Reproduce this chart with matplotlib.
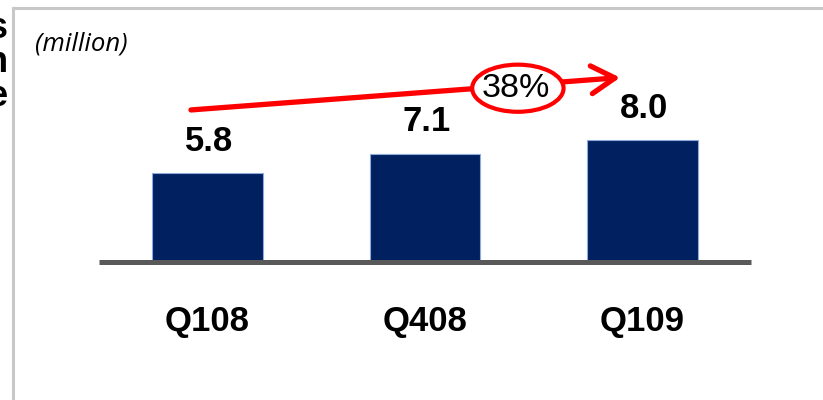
import matplotlib.pyplot as plt
from matplotlib.patches import Ellipse
from matplotlib.lines import Line2D

quarters = ['Q108', 'Q408', 'Q109']
subscribers = [5.8, 7.1, 8.0]
growth_label = '38%'
unit_label = '(million)'

plt.rcParams['font.family'] = ['Liberation Sans', 'DejaVu Sans']

fig = plt.figure(figsize=(8.23, 4.0), dpi=100)
W, H = 823, 400

# axes placed so that y=0 sits on the grey baseline
ax = fig.add_axes([98.75 / W, 138.5 / H, 652.5 / W, 152 / H])
ax.set_xlim(-0.5, 2.5)
ax.set_ylim(0, 10)

x = range(len(quarters))
ax.bar(x, subscribers, width=0.51, color='#002060', edgecolor='#8ea9db', linewidth=0.8, zorder=2)

for xi, v in zip(x, subscribers):
    ax.annotate(f'{v:.1f}', (xi, v), xytext=(1, 16), textcoords='offset points',
                ha='center', va='baseline', fontsize=25, fontweight='bold', color='black',
                annotation_clip=False)

for side in ['top', 'right', 'left']:
    ax.spines[side].set_visible(False)
ax.spines['bottom'].set_color('#595959')
ax.spines['bottom'].set_linewidth(3.6)
ax.spines['bottom'].set_capstyle('butt')
ax.spines['bottom'].set_zorder(3)
ax.set_yticks([])
ax.set_xticks(list(x))
ax.set_xticklabels(quarters, fontsize=25, fontweight='bold')
ax.tick_params(axis='x', length=0, pad=31)
ax.patch.set_visible(False)

# growth arrow with circled percentage
ax.annotate('', xy=(1.897, 12.1), xytext=(-0.076, 9.97),
            arrowprops=dict(arrowstyle='->, head_length=0.85, head_width=0.5', color='#ff0000',
                            lw=3.8, shrinkA=0, shrinkB=0, mutation_scale=20),
            annotation_clip=False)
ell = Ellipse((1.427, 11.4), 0.42, 3.1, facecolor='white', edgecolor='#ff0000', lw=3.0,
              clip_on=False, zorder=4)
ax.add_patch(ell)
ax.text(1.418, 11.35, growth_label, ha='center', va='center', fontsize=24.5, zorder=5, clip_on=False)

fig.text(35 / W, 1 - 44 / H, unit_label, ha='left', va='center', fontsize=18.5,
         style='italic', family=['Open Sans', 'DejaVu Sans'])

# frame of the slide box
fig.add_artist(Line2D([13 / W, 13 / W], [0, 1 - 8 / H], color='#c8c8c8', lw=2.2))
fig.add_artist(Line2D([13 / W, 1], [1 - 8 / H, 1 - 8 / H], color='#c8c8c8', lw=2.2))

# clipped letters from the neighbouring text box
for ch, yy in zip(['s', 'n', 'e'], [28, 62, 97]):
    fig.text(8 / W, 1 - yy / H, ch, ha='right', va='center', fontsize=26, fontweight='bold')

fig.savefig('out.png', dpi=100)
